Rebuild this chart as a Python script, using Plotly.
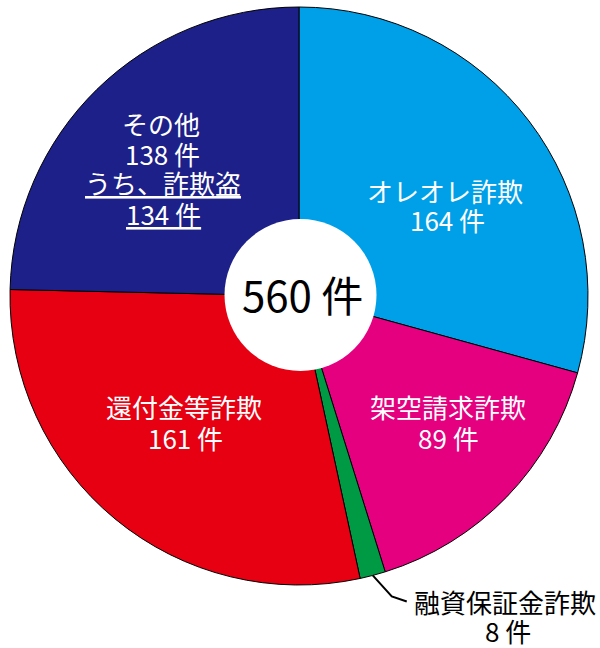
import math
import plotly.graph_objects as go

categories = ["オレオレ詐欺", "架空請求詐欺", "融資保証金詐欺", "還付金等詐欺", "その他"]
counts = [164, 89, 8, 161, 138]
colors = ["#00A0E9", "#E4007F", "#009944", "#E60012", "#1D2088"]
total_label = "560 件"
sub_label = "うち、詐欺盗"
sub_count = 134
unit = "件"

W, H = 600, 648
cx, cy, R = 299, 296, 289
hx, hy, hole_r = 300.5, 295, 76
FONT = "Noto Sans CJK JP"

def px(x):
    return x / W

def py(y):
    return 1 - y / H

fig = go.Figure()
fig.add_trace(go.Pie(
    labels=categories, values=counts, sort=False, direction="clockwise", rotation=0,
    marker=dict(colors=colors, line=dict(color="black", width=1)),
    textinfo="none", hoverinfo="label+value", showlegend=False,
    domain=dict(x=[px(cx - R), px(cx + R)], y=[py(cy + R), py(cy - R)]),
))
fig.add_trace(go.Pie(
    labels=["total"], values=[1], marker=dict(colors=["white"], line=dict(width=0)),
    textinfo="none", hoverinfo="skip", showlegend=False, sort=False,
    domain=dict(x=[px(hx - hole_r), px(hx + hole_r)], y=[py(hy + hole_r), py(hy - hole_r)]),
))

white = dict(family=FONT, size=26, color="white")
black = dict(family=FONT, size=26, color="black")

ann = []
def add(text, x, y, font):
    ann.append(dict(text=text, x=px(x), y=py(y), xref="paper", yref="paper",
                    xanchor="center", yanchor="middle", showarrow=False, font=font))

add(categories[0], 445, 191, white)
add(f"{counts[0]} {unit}", 447, 220, white)
add(categories[1], 448, 406, white)
add(f"{counts[1]} {unit}", 448, 437, white)
add(categories[3], 184, 406, white)
add(f"{counts[3]} {unit}", 185, 437, white)
add(categories[4], 161, 124, white)
add(f"{counts[4]} {unit}", 162, 154, white)
add(f"<u>{sub_label}</u>", 163, 182, white)
add(f"<u>{sub_count} {unit}</u>", 163, 213, white)
add(categories[2], 505, 601, black)
add(f"{counts[2]} {unit}", 508, 630, black)
add(total_label, hx + 2, hy - 2, dict(family=FONT, size=42, color="black"))

# leader line for the small green slice
start_deg = sum(counts[:2]) / sum(counts) * 360
mid_deg = start_deg + counts[2] / sum(counts) * 360 / 2
a = math.radians(mid_deg)
sx = cx + R * math.sin(a)
sy = cy - R * math.cos(a)
ex, ey = sx + 19, sy + 21
fx, fy = ex + 15, ey + 5
fig.add_shape(type="path", xref="paper", yref="paper",
              path=f"M {px(sx)} {py(sy)} L {px(ex)} {py(ey)} L {px(fx)} {py(fy)}",
              line=dict(color="black", width=2))

fig.update_layout(width=W, height=H, margin=dict(l=0, r=0, t=0, b=0),
                  paper_bgcolor="white", plot_bgcolor="white", annotations=ann)
fig.write_html("out.html", config={"displayModeBar": False},
               post_script="document.body.style.margin='0px';")
